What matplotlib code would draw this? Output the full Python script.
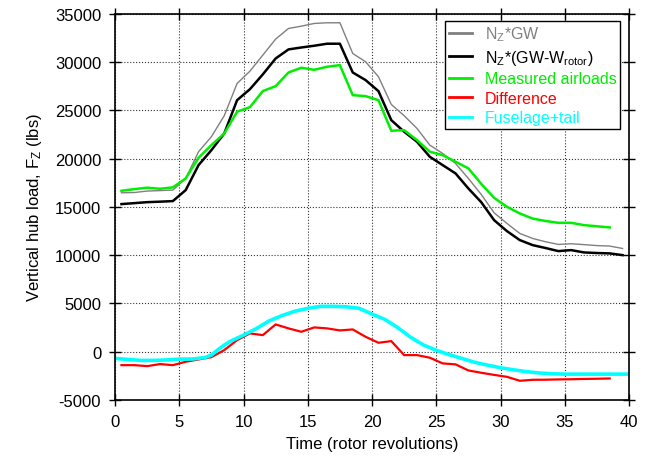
import numpy as np
import matplotlib.pyplot as plt

plt.rcParams['font.family'] = ['Liberation Sans', 'DejaVu Sans']
plt.rcParams['mathtext.default'] = 'regular'
plt.rcParams['axes.unicode_minus'] = False

# rotor revolution stations for the load estimates
revs = np.arange(0.5, 40.0, 1.0)

nz_gw = [16470, 16500, 16650, 16700, 16750, 17960, 20730, 22280, 24460, 27800,
         29080, 30740, 32400, 33500, 33740, 34020, 34090, 34090, 30910, 30050,
         28500, 25630, 24460, 23140, 21410, 20550, 19510, 17960, 16300, 14400,
         13300, 12260, 11740, 11400, 11120, 11190, 11100, 11000, 10950, 10700]

nz_gw_rotor = [15300, 15400, 15500, 15550, 15610, 16750, 19340, 20890, 22620, 26070,
               27210, 28740, 30390, 31330, 31530, 31710, 31920, 31920, 28940, 28150,
               27010, 24000, 22800, 21760, 20200, 19340, 18480, 16920, 15500, 13640,
               12500, 11570, 11050, 10750, 10430, 10530, 10290, 10230, 10190, 10010]

airloads = [16680, 16850, 17000, 16890, 17030, 17960, 20100, 21410, 22620, 24870,
            25350, 27010, 27520, 28940, 29430, 29220, 29530, 29700, 26590, 26490,
            26070, 22900, 22960, 21930, 20730, 20370, 19690, 19000, 17400, 15950,
            15020, 14330, 13800, 13550, 13360, 13360, 13120, 13000, 12880]

difference = [-1390, -1390, -1490, -1280, -1390, -1040, -800, -560, 170, 1200,
              1900, 1720, 2830, 2420, 2070, 2520, 2420, 2210, 2310, 1550,
              930, 1100, -350, -350, -620, -1210, -1310, -1940, -2180, -2400,
              -2600, -3010, -2910, -2900, -2870, -2850, -2820, -2800, -2770]

# fuselage + tail load, sampled more finely
fus_t = [0, 1, 2, 3, 4, 5, 6, 7, 7.5, 8, 8.5, 9, 10, 11, 12, 13, 14, 15, 16, 17,
         18, 19, 20, 21, 22, 23, 24, 25, 26, 27, 28, 29, 30, 31, 32, 33, 34, 35,
         36, 37, 38, 39, 40]
fuselage = [-690, -800, -900, -900, -850, -760, -760, -600, -350, 200, 690, 1100,
            1720, 2400, 3200, 3750, 4200, 4500, 4700, 4700, 4660, 4500, 3900, 3350,
            2500, 1500, 700, 150, -300, -700, -1100, -1390, -1660, -1870, -2060,
            -2200, -2280, -2320, -2320, -2320, -2320, -2320, -2320]

fig = plt.figure(figsize=(6.51, 4.60), dpi=100)
ax = fig.add_axes([0.1767, 0.1283, 0.7895, 0.8391])

ax.plot(revs, nz_gw, color='#808080', lw=1.0, label='N$_Z$*GW')
ax.plot(revs, nz_gw_rotor, color='black', lw=1.8, label='N$_Z$*(GW-W$_{rotor}$)')
ax.plot(revs[:len(airloads)], airloads, color='#00ee00', lw=1.8, label='Measured airloads')
ax.plot(revs[:len(difference)], difference, color='red', lw=1.6, label='Difference')
ax.plot(fus_t, fuselage, color='cyan', lw=2.6, label='Fuselage+tail')

ax.set_xlim(0, 40)
ax.set_ylim(-5000, 35000)
ax.set_xticks(range(0, 41, 5))
ax.set_yticks(range(-5000, 35001, 5000))
ax.grid(True, linestyle=':', color='#333333', lw=0.8)
ax.tick_params(direction='inout', length=8, width=1, top=True, right=True,
               labelsize=12, pad=6)
for s in ax.spines.values():
    s.set_linewidth(1.2)

ax.set_xlabel('Time (rotor revolutions)', fontsize=12, labelpad=5)
ax.set_ylabel('Vertical hub load, F$_Z$ (lbs)', fontsize=12, labelpad=8)

leg = ax.legend(loc='upper right', bbox_to_anchor=(0.983, 0.983), borderaxespad=0,
                fontsize=11.5, handlelength=1.4, labelspacing=0.28, borderpad=0.25,
                fancybox=False, framealpha=1, edgecolor='black')
leg.get_frame().set_linewidth(1.0)
for line, text in zip(leg.get_lines(), leg.get_texts()):
    text.set_color(line.get_color())
    line.set_linewidth(2.0)

fig.savefig('out.png', dpi=100)
